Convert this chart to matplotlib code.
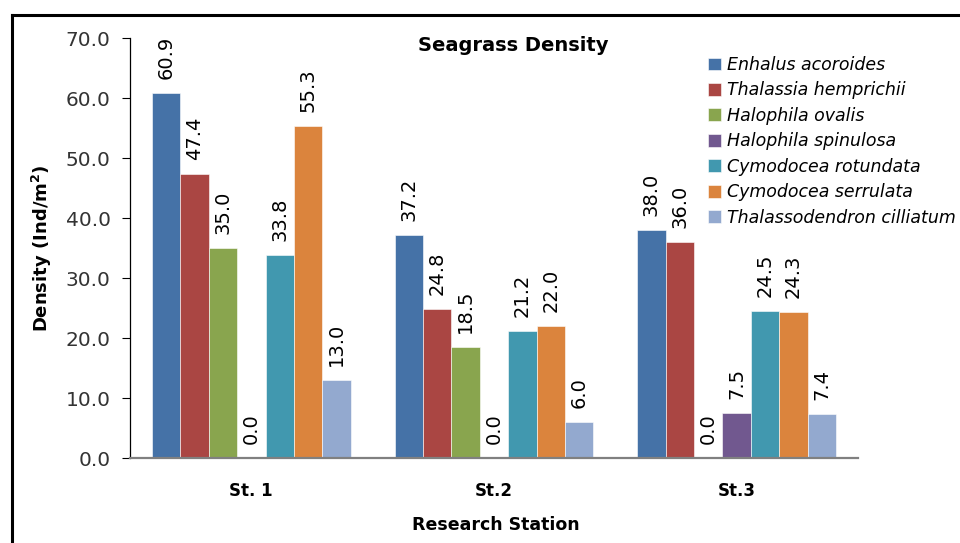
import numpy as np
import matplotlib.pyplot as plt
from matplotlib.lines import Line2D

# Dane
stations = ['St. 1', 'St.2', 'St.3']
species = ['Enhalus acoroides', 'Thalassia hemprichii', 'Halophila ovalis',
           'Halophila spinulosa', 'Cymodocea rotundata', 'Cymodocea serrulata',
           'Thalassodendron cilliatum']
enhalus = [60.9, 37.2, 38.0]
thalassia = [47.4, 24.8, 36.0]
ovalis = [35.0, 18.5, 0.0]
spinulosa = [0.0, 0.0, 7.5]
rotundata = [33.8, 21.2, 24.5]
serrulata = [55.3, 22.0, 24.3]
thalassodendron = [13.0, 6.0, 7.4]
series = [enhalus, thalassia, ovalis, spinulosa, rotundata, serrulata, thalassodendron]
colors = ['#4572A7', '#AA4643', '#89A54E', '#71588F', '#4198AF', '#DB843D', '#93A9CF']
yticks = [0, 10, 20, 30, 40, 50, 60, 70]

fig = plt.figure(figsize=(9.6, 5.43), dpi=100)
ax = fig.add_axes([0.1354, 0.1565, 0.7583, 0.7735])

x = np.arange(len(stations))
bw = 0.117
n = len(series)
for i, (vals, col, name) in enumerate(zip(series, colors, species)):
    pos = x + (i - (n - 1) / 2) * bw
    ax.bar(pos, vals, width=bw, color=col, label=name,
           edgecolor='white', linewidth=0.4)
    for xp, v in zip(pos, vals):
        ax.text(xp, v + 2.3, f'{v:.1f}', rotation=90, ha='center', va='bottom',
                fontsize=14)

ax.set_xlim(-0.5, 2.5)
ax.set_ylim(0, 70)
ax.set_yticks(yticks)
ax.set_yticklabels([f'{t:.1f}' for t in yticks], fontsize=14.5, color='#333333')
ax.set_xticks(x)
ax.set_xticklabels(stations, fontsize=12, fontweight='bold')
ax.tick_params(axis='x', length=0, pad=17)
ax.tick_params(axis='y', length=6, direction='out', pad=8)

for s in ['top', 'right']:
    ax.spines[s].set_visible(False)
ax.spines['left'].set_color('black')
ax.spines['left'].set_linewidth(0.9)
ax.spines['bottom'].set_color('#808080')
ax.spines['bottom'].set_linewidth(1.6)

ax.set_ylabel('Density (Ind/m$^\\mathbf{2}$)', fontsize=13, fontweight='bold', labelpad=8)
fig.text(0.516, 0.034, 'Research Station', ha='center', va='center',
         fontsize=12.5, fontweight='bold')
fig.text(0.535, 0.917, 'Seagrass Density', ha='center', va='center',
         fontsize=14, fontweight='bold')

leg = fig.legend(loc='upper left', bbox_to_anchor=(0.737, 0.897), frameon=False,
                 prop={'style': 'italic', 'size': 12.5}, handlelength=0.75,
                 handleheight=0.75, handletextpad=0.35, labelspacing=0.43,
                 borderpad=0, borderaxespad=0)

# Ramka (tylko góra i lewa strona widoczne)
fig.add_artist(Line2D([12 / 960, 1.0], [1 - 15 / 543, 1 - 15 / 543],
                      transform=fig.transFigure, color='black', linewidth=2.2))
fig.add_artist(Line2D([12 / 960, 12 / 960], [1 - 15 / 543, 2 / 543],
                      transform=fig.transFigure, color='black', linewidth=2.2))

fig.savefig('out.png', dpi=100)
